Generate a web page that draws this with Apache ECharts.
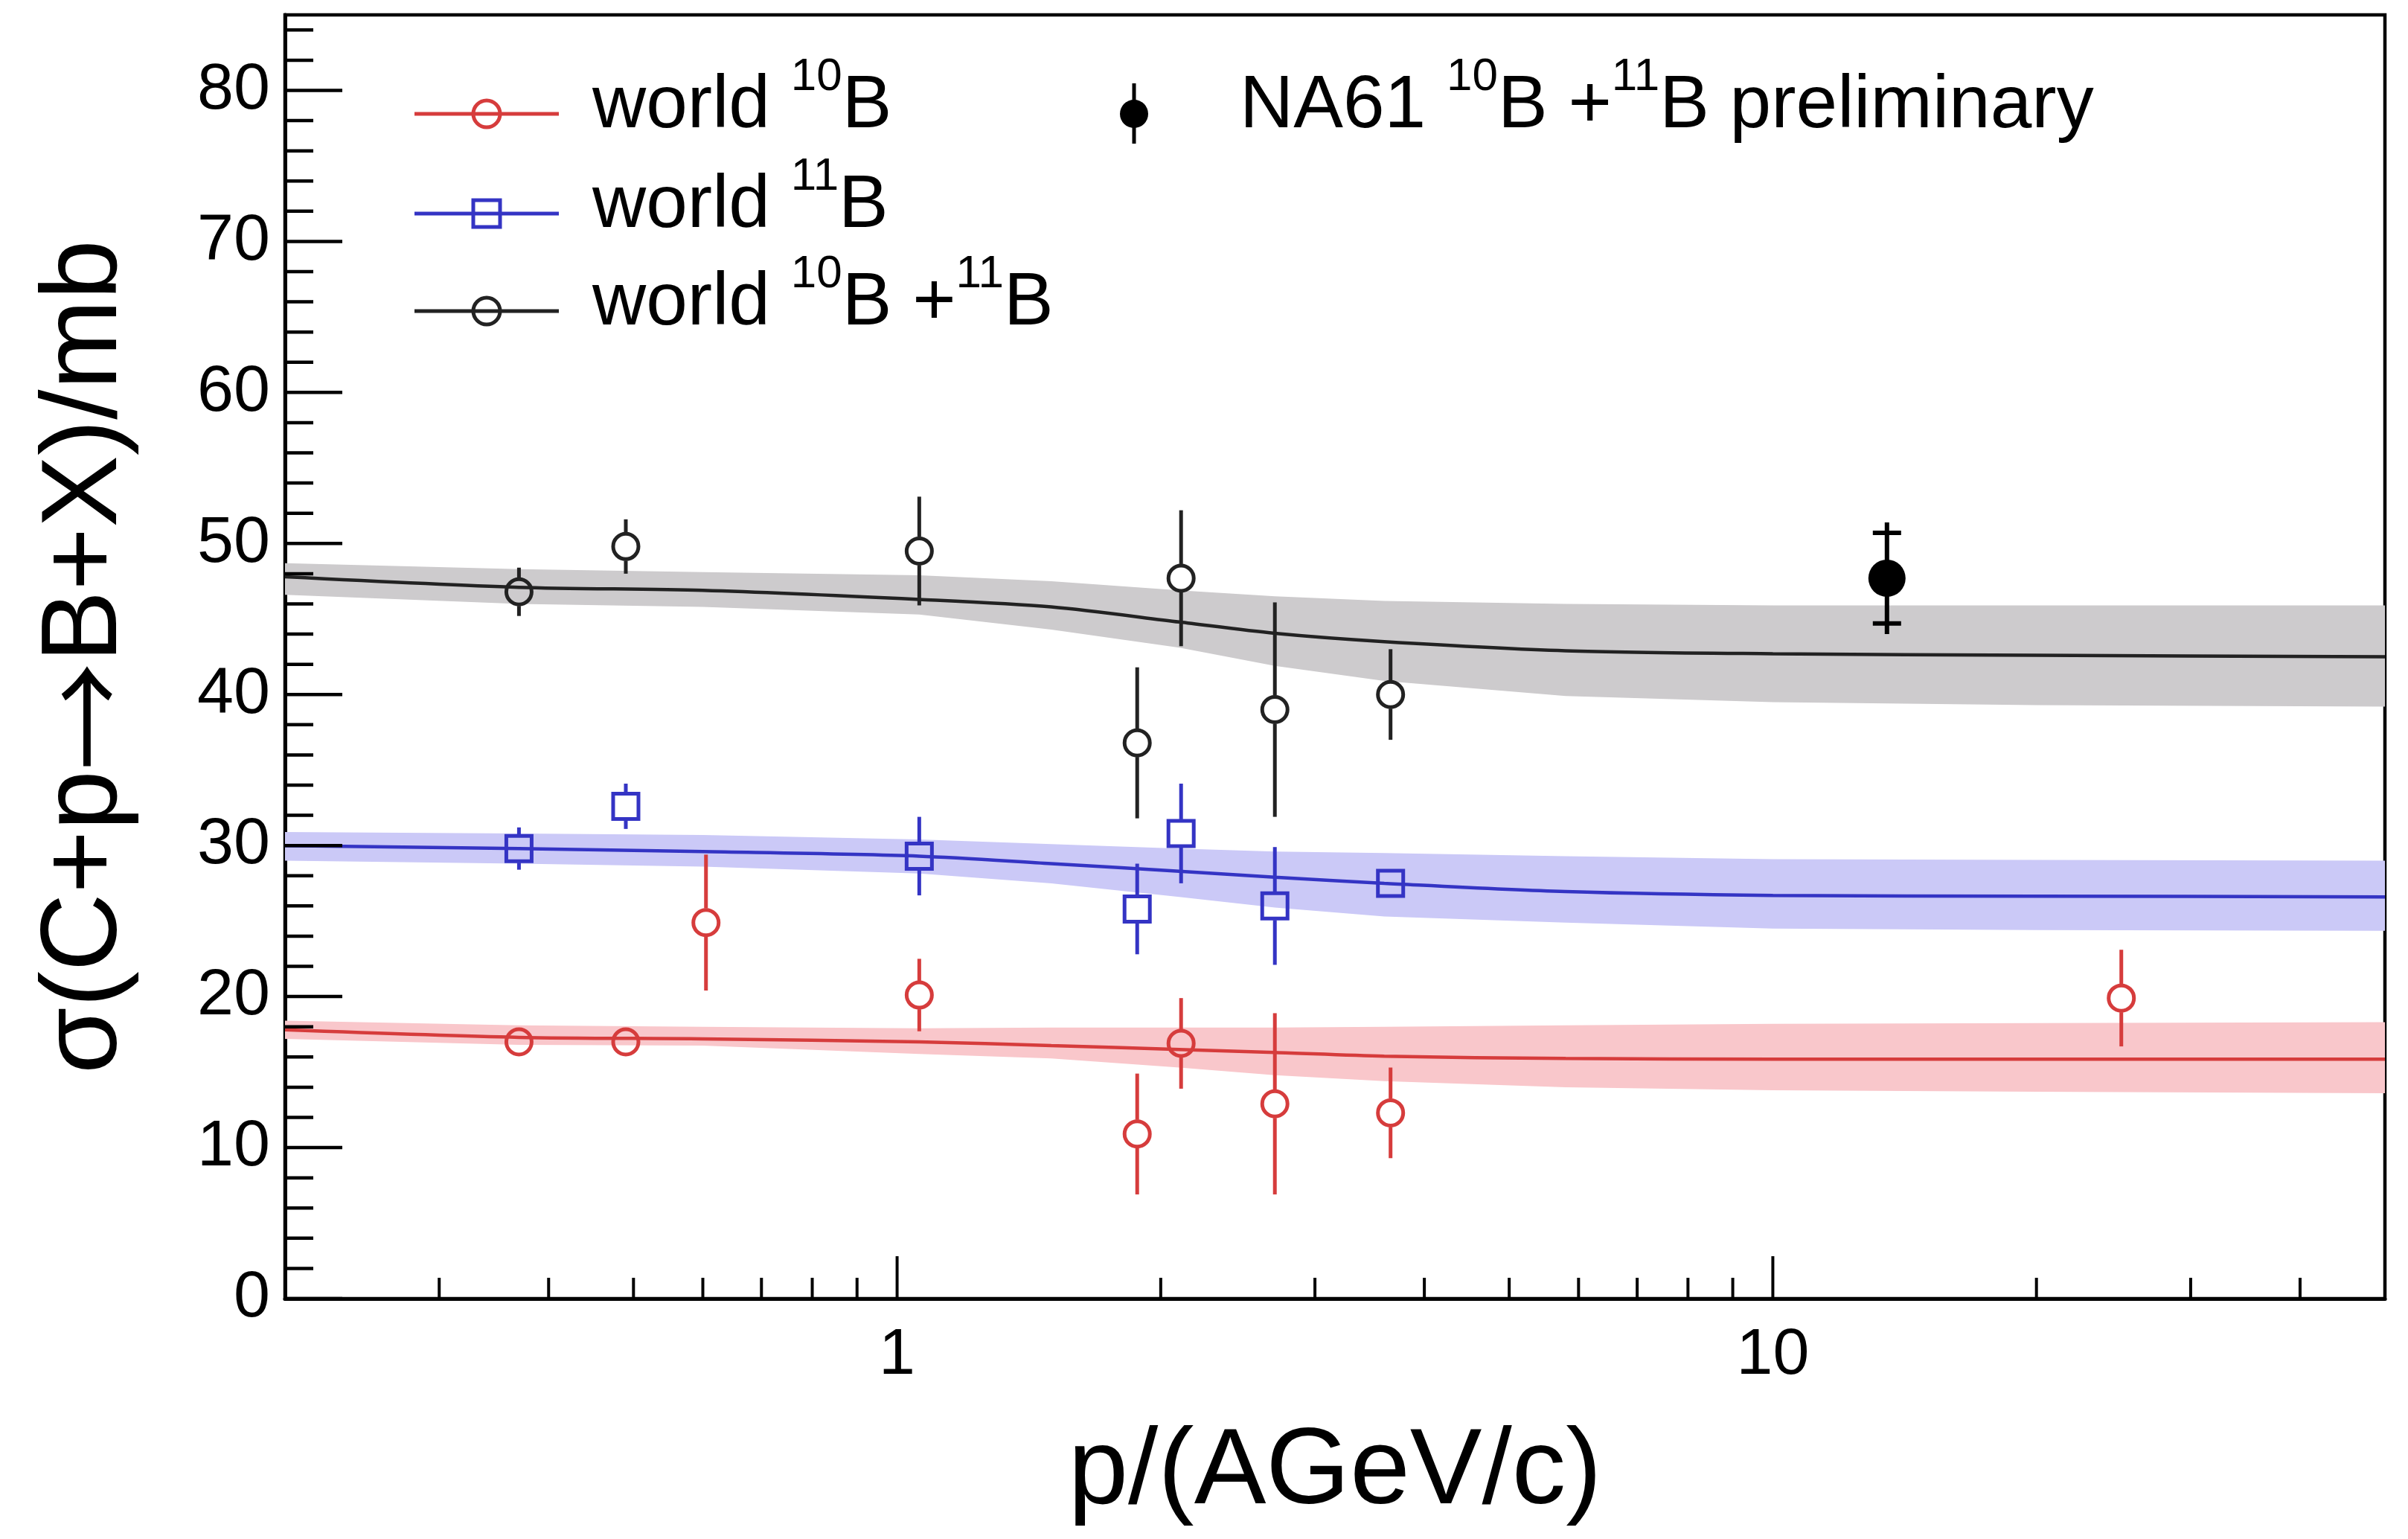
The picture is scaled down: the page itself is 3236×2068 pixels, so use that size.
<!DOCTYPE html>
<html>
<head>
<meta charset="utf-8">
<script src="https://cdn.jsdelivr.net/npm/echarts@6/dist/echarts.min.js"></script>
<style>
  html, body { margin: 0; padding: 0; background: #ffffff; }
  #chart { width: 3236px; height: 2068px; }
</style>
</head>
<body>
<div id="chart"></div>
<script>
// ---- measured cross sections: world data for 10B ----
const b10P     = [0.37, 0.49, 0.605, 1.06, 1.88, 2.11, 2.70, 3.66, 25];
const b10Sigma = [17.0, 17.0, 24.9, 20.1, 10.9, 16.9, 12.9, 12.3, 19.9];
const b10Err   = [0.8, 0.8, 4.5, 2.4, 4.0, 3.0, 6.0, 3.0, 3.2];

// ---- world data for 11B ----
const b11P     = [0.37, 0.49, 1.06, 1.88, 2.11, 2.70, 3.66];
const b11Sigma = [29.8, 32.6, 29.3, 25.8, 30.8, 26.0, 27.5];
const b11Err   = [1.4, 1.5, 2.6, 3.0, 3.3, 3.9, 0.8];

// ---- world data for 10B + 11B ----
const bSumP     = [0.37, 0.49, 1.06, 1.88, 2.11, 2.70, 3.66];
const bSumSigma = [46.8, 49.8, 49.5, 36.8, 47.7, 39.0, 40.0];
const bSumErr   = [1.6, 1.8, 3.6, 5.0, 4.5, 7.1, 3.0];

// ---- NA61 preliminary 10B + 11B ----
const na61P      = [13.5];
const na61Sigma  = [47.7];
const na61ErrCap = [3.0];
const na61ErrTot = [3.7];

// ---- fitted parametrisations with uncertainty bands ----
const fitP = [0.2, 0.37, 0.6, 1.06, 1.5, 2.1, 2.7, 3.6, 5.8, 10, 20, 50];
const b10Fit = [17.8, 17.3, 17.2, 17.0, 16.75, 16.5, 16.3, 16.05, 15.9, 15.85, 15.85, 15.85];
const b10Lo  = [17.2, 16.8, 16.75, 16.2, 15.9, 15.3, 14.8, 14.4, 14.0, 13.8, 13.7, 13.6];
const b10Hi  = [18.4, 18.1, 18.0, 17.9, 17.95, 17.95, 17.95, 18.0, 18.1, 18.2, 18.25, 18.3];
const b11Fit = [30.0, 29.8, 29.6, 29.3, 28.8, 28.3, 27.9, 27.5, 26.95, 26.7, 26.65, 26.6];
const b11Lo  = [29.0, 28.8, 28.6, 28.15, 27.5, 26.6, 25.9, 25.3, 24.9, 24.5, 24.4, 24.35];
const b11Hi  = [30.9, 30.8, 30.7, 30.4, 30.1, 29.8, 29.6, 29.5, 29.3, 29.1, 29.05, 29.0];
const bSumFit = [47.8, 47.1, 46.9, 46.3, 45.8, 44.8, 44.05, 43.5, 42.9, 42.7, 42.6, 42.5];
const bSumLo  = [46.6, 46.0, 45.8, 45.3, 44.3, 43.1, 41.9, 40.9, 39.9, 39.5, 39.3, 39.2];
const bSumHi  = [48.7, 48.3, 48.1, 47.9, 47.5, 46.9, 46.5, 46.2, 46.0, 45.9, 45.9, 45.9];

// ---- axis ticks ----
const xMajorTicks = [1, 10];
const xMinorTicks = [0.3, 0.4, 0.5, 0.6, 0.7, 0.8, 0.9, 2, 3, 4, 5, 6, 7, 8, 9, 20, 30, 40];
const yMajorTicks = [0, 10, 20, 30, 40, 50, 60, 70, 80];
const yMinorTicks = [2, 4, 6, 8, 12, 14, 16, 18, 22, 24, 26, 28, 32, 34, 36, 38, 42, 44, 46, 48,
                     52, 54, 56, 58, 62, 64, 66, 68, 72, 74, 76, 78, 82, 84];

const X_MIN = 0.2, X_MAX = 50, Y_MIN = 0, Y_MAX = 85;
const FONT = '"Liberation Sans", Arial, Helvetica, sans-serif';
const ARROW_FONT = '"Noto Sans CJK SC", "DejaVu Sans", sans-serif';

const RED = '#d63c3c', RED_BAND = '#f9c7cb';
const BLUE = '#3434c4', BLUE_BAND = '#cbc9f7';
const BLACK = '#222222', GRAY_BAND = '#cdcbcd';

const MARKER = 34;        // marker size (px)
const MARKER_GAP = 19;    // error bars stop at the marker edge
const BAR_W = 5;

function pairs(xs, ys) { return xs.map((x, i) => [x, ys[i]]); }

// uncertainty band as one filled polygon: upper edge left to right, lower edge back
function bandSeries(lo, hi, color) {
  return {
    type: 'custom', silent: true, z: 1, clip: true,
    encode: { x: 0, y: [1, 2] },
    data: fitP.map((p, i) => [p, lo[i], hi[i]]),
    renderItem: function (params, api) {
      if (params.dataIndex !== 0) return null;
      const pts = [];
      for (let i = 0; i < fitP.length; i++) pts.push(api.coord([fitP[i], hi[i]]));
      for (let i = fitP.length - 1; i >= 0; i--) pts.push(api.coord([fitP[i], lo[i]]));
      return { type: 'polygon', shape: { points: pts }, style: { fill: color } };
    }
  };
}

function fitSeries(fit, color) {
  return {
    type: 'line', data: pairs(fitP, fit), symbol: 'none', smooth: 0.3,
    silent: true, z: 2, lineStyle: { color: color, width: 4.5 }
  };
}

// vertical error bars, interrupted by the hollow marker
function errorBarSeries(xs, ys, errs, color) {
  return {
    type: 'custom', silent: true, z: 3, clip: false,
    encode: { x: 0, y: 1 },
    data: xs.map((x, i) => [x, ys[i], errs[i]]),
    renderItem: function (params, api) {
      const x = api.value(0), y = api.value(1), e = api.value(2);
      const c = api.coord([x, y]);
      const top = api.coord([x, y + e]);
      const bot = api.coord([x, y - e]);
      const children = [];
      if (c[1] - top[1] > MARKER_GAP) {
        children.push({ type: 'line', shape: { x1: c[0], y1: top[1], x2: c[0], y2: c[1] - MARKER_GAP },
          style: { stroke: color, lineWidth: BAR_W } });
      }
      if (bot[1] - c[1] > MARKER_GAP) {
        children.push({ type: 'line', shape: { x1: c[0], y1: c[1] + MARKER_GAP, x2: c[0], y2: bot[1] },
          style: { stroke: color, lineWidth: BAR_W } });
      }
      return { type: 'group', children: children };
    }
  };
}

function markerSeries(xs, ys, symbol, color) {
  return {
    type: 'scatter', data: pairs(xs, ys), symbol: symbol, symbolSize: MARKER,
    silent: true, z: 4,
    itemStyle: { color: 'rgba(0,0,0,0)', borderColor: color, borderWidth: 5, opacity: 1 }
  };
}

// NA61 point: full error line with short caps
function na61BarSeries() {
  return {
    type: 'custom', silent: true, z: 5, clip: false,
    encode: { x: 0, y: 1 },
    data: na61P.map((x, i) => [x, na61Sigma[i], na61ErrCap[i], na61ErrTot[i]]),
    renderItem: function (params, api) {
      const x = api.value(0), y = api.value(1), ec = api.value(2), et = api.value(3);
      const t = api.coord([x, y + et]), b = api.coord([x, y - et]);
      const ct = api.coord([x, y + ec]), cb = api.coord([x, y - ec]);
      const st = { stroke: '#000', lineWidth: 6 };
      return { type: 'group', children: [
        { type: 'line', shape: { x1: t[0], y1: t[1], x2: b[0], y2: b[1] }, style: st },
        { type: 'line', shape: { x1: ct[0] - 19, y1: ct[1], x2: ct[0] + 19, y2: ct[1] }, style: st },
        { type: 'line', shape: { x1: cb[0] - 19, y1: cb[1], x2: cb[0] + 19, y2: cb[1] }, style: st }
      ] };
    }
  };
}

// inward-pointing axis ticks
function xTickSeries(values, len) {
  return {
    type: 'custom', silent: true, z: 6, clip: false, encode: { x: 0, y: 1 },
    data: values.map(v => [v, Y_MIN]),
    renderItem: function (params, api) {
      const p = api.coord([api.value(0), api.value(1)]);
      return { type: 'line', shape: { x1: p[0], y1: p[1], x2: p[0], y2: p[1] - len },
        style: { stroke: '#000', lineWidth: 4 } };
    }
  };
}
function yTickSeries(values, len) {
  return {
    type: 'custom', silent: true, z: 6, clip: false, encode: { x: 0, y: 1 },
    data: values.map(v => [X_MIN, v]),
    renderItem: function (params, api) {
      const p = api.coord([api.value(0), api.value(1)]);
      return { type: 'line', shape: { x1: p[0], y1: p[1], x2: p[0] + len, y2: p[1] },
        style: { stroke: '#000', lineWidth: 4.5 } };
    }
  };
}

// legend drawn as graphic elements
const LEG_ROWS = [153, 287, 418];
const legendRich = {
  m: { fontSize: 100, lineHeight: 140, verticalAlign: 'middle', fontFamily: FONT, fill: '#000' },
  s: { fontSize: 62, lineHeight: 62, verticalAlign: 'top', fontFamily: FONT, fill: '#000' }
};
function legendText(x, y, text) {
  return { type: 'text', x: x, y: y, z: 20, silent: true,
    style: { text: text, rich: legendRich, fontFamily: FONT, fontSize: 100, fill: '#000',
             align: 'left', verticalAlign: 'top' } };
}
function legendLine(y, color) {
  return { type: 'line', z: 20, silent: true,
    shape: { x1: 557, y1: y, x2: 751, y2: y }, style: { stroke: color, lineWidth: 5 } };
}
const legendGraphics = [
  legendLine(LEG_ROWS[0], RED),
  { type: 'circle', z: 21, silent: true, shape: { cx: 654, cy: LEG_ROWS[0], r: 18 },
    style: { fill: 'rgba(0,0,0,0)', stroke: RED, lineWidth: 5 } },
  legendText(796, LEG_ROWS[0] - 80, '{m|world }{s|10}{m|B}'),

  legendLine(LEG_ROWS[1], BLUE),
  { type: 'rect', z: 21, silent: true, shape: { x: 654 - 18, y: LEG_ROWS[1] - 18, width: 36, height: 36 },
    style: { fill: 'rgba(0,0,0,0)', stroke: BLUE, lineWidth: 5 } },
  legendText(796, LEG_ROWS[1] - 80, '{m|world }{s|11}{m|B}'),

  legendLine(LEG_ROWS[2], BLACK),
  { type: 'circle', z: 21, silent: true, shape: { cx: 654, cy: LEG_ROWS[2], r: 18 },
    style: { fill: 'rgba(0,0,0,0)', stroke: BLACK, lineWidth: 5 } },
  legendText(796, LEG_ROWS[2] - 80, '{m|world }{s|10}{m|B +}{s|11}{m|B}'),

  { type: 'line', z: 20, silent: true, shape: { x1: 1524, y1: 112, x2: 1524, y2: 193 },
    style: { stroke: '#000', lineWidth: 5 } },
  { type: 'circle', z: 21, silent: true, shape: { cx: 1524, cy: LEG_ROWS[0], r: 19 },
    style: { fill: '#000' } },
  legendText(1666, LEG_ROWS[0] - 80, '{m|NA61 }{s|10}{m|B +}{s|11}{m|B preliminary}')
];

const chart = echarts.init(document.getElementById('chart'), null, { renderer: 'canvas' });

chart.setOption({
  animation: false,
  backgroundColor: '#ffffff',
  grid: {
    left: 383, right: 31, top: 20, bottom: 323,
    show: true, borderColor: '#000', borderWidth: 4.5, backgroundColor: '#ffffff'
  },
  xAxis: {
    type: 'log', logBase: 10, min: X_MIN, max: X_MAX,
    axisLine: { show: true, onZero: false, lineStyle: { color: '#000', width: 5 } },
    axisTick: { show: false }, minorTick: { show: false },
    splitLine: { show: false }, minorSplitLine: { show: false },
    axisLabel: {
      color: '#000', fontSize: 88, fontFamily: FONT, margin: 33,
      formatter: function (v) {
        const l = Math.log10(v);
        return Math.abs(l - Math.round(l)) < 1e-6 && xMajorTicks.indexOf(Math.round(v)) >= 0
          ? String(Math.round(v)) : '';
      }
    },
    name: 'p/(AGeV/c)', nameLocation: 'middle', nameGap: 163,
    nameTextStyle: { color: '#000', fontSize: 145, fontFamily: FONT }
  },
  yAxis: {
    type: 'value', min: Y_MIN, max: Y_MAX, interval: 10,
    axisLine: { show: true, onZero: false, lineStyle: { color: '#000', width: 5 } },
    axisTick: { show: false }, splitLine: { show: false },
    axisLabel: {
      color: '#000', fontSize: 88, fontFamily: FONT, margin: 20,
      formatter: function (v) { return yMajorTicks.indexOf(v) >= 0 ? String(v) : ''; }
    },
    name: 'σ(C+p{a|→}B+X)/mb', nameLocation: 'middle', nameRotate: 90, nameGap: 194,
    nameTextStyle: {
      color: '#000', fontSize: 145, fontFamily: FONT,
      rich: { a: { fontSize: 145, fontFamily: ARROW_FONT, color: '#000' } }
    }
  },
  graphic: legendGraphics,
  series: [
    bandSeries(bSumLo, bSumHi, GRAY_BAND),
    bandSeries(b11Lo, b11Hi, BLUE_BAND),
    bandSeries(b10Lo, b10Hi, RED_BAND),
    fitSeries(bSumFit, BLACK),
    fitSeries(b11Fit, BLUE),
    fitSeries(b10Fit, RED),
    errorBarSeries(bSumP, bSumSigma, bSumErr, BLACK),
    errorBarSeries(b11P, b11Sigma, b11Err, BLUE),
    errorBarSeries(b10P, b10Sigma, b10Err, RED),
    markerSeries(bSumP, bSumSigma, 'circle', BLACK),
    markerSeries(b11P, b11Sigma, 'rect', BLUE),
    markerSeries(b10P, b10Sigma, 'circle', RED),
    na61BarSeries(),
    {
      type: 'scatter', data: pairs(na61P, na61Sigma), symbol: 'circle', symbolSize: 50,
      silent: true, z: 6, itemStyle: { color: '#000', opacity: 1 }
    },
    xTickSeries(xMajorTicks, 57),
    xTickSeries(xMinorTicks, 28),
    yTickSeries(yMajorTicks, 77),
    yTickSeries(yMinorTicks, 38)
  ]
});
</script>
</body>
</html>
